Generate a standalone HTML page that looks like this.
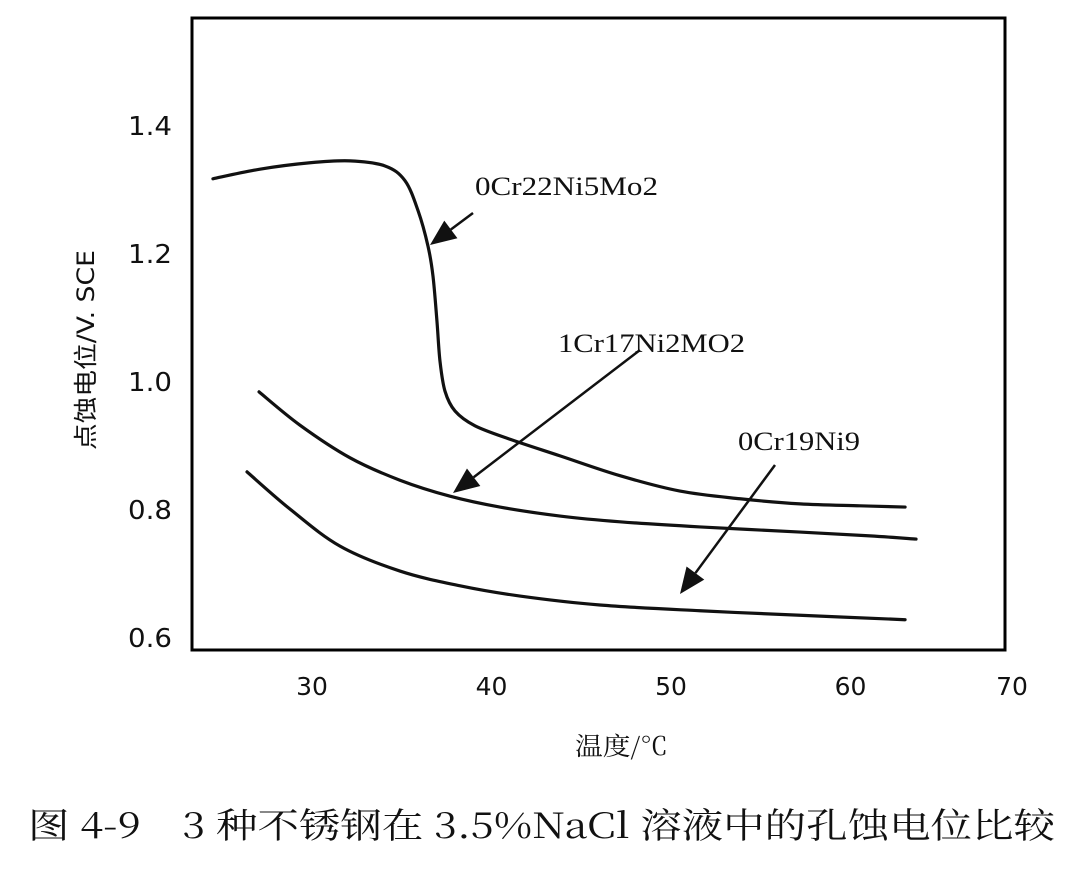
<!DOCTYPE html>
<html><head><meta charset="utf-8"><style>
html,body{margin:0;padding:0;background:#fff;}
svg{display:block;}
</style></head><body>
<svg id="chart" width="1080" height="871" viewBox="0 0 1080 871" xmlns="http://www.w3.org/2000/svg">
<g id="plot"></g>
<text x="28" y="838" textLength="1027" lengthAdjust="spacingAndGlyphs" font-family="'Noto Serif CJK SC',serif" font-size="35" fill="#111">图 4-9　3 种不锈钢在 3.5%NaCl 溶液中的孔蚀电位比较</text>
</svg>
<script>
const xTicks=[30,40,50,60,70];
const yTicks=[0.6,0.8,1.0,1.2,1.4];
const seriesNames=["0Cr22Ni5Mo2","1Cr17Ni2MO2","0Cr19Ni9"];
const s1x=[24.48,27.10,29.89,32.12,34.07,35.18,35.91,36.46,36.74,36.96,37.13,37.41,37.97,39.08,41.03,43.82,47.16,50.50,53.84,57.19,60.53,63.04];
const s1y=[1.316,1.331,1.341,1.344,1.336,1.313,1.266,1.211,1.164,1.094,1.031,0.984,0.953,0.930,0.909,0.883,0.852,0.828,0.816,0.808,0.805,0.803];
const s2x=[27.05,29.33,32.12,34.90,37.69,40.47,43.82,47.16,51.62,57.19,61.09,63.65];
const s2y=[0.983,0.931,0.880,0.845,0.820,0.803,0.789,0.780,0.772,0.764,0.758,0.753];
const s3x=[26.38,28.77,31.56,34.90,38.25,41.59,46.04,51.62,57.19,63.04];
const s3y=[0.858,0.800,0.742,0.703,0.680,0.664,0.650,0.641,0.634,0.627];

const NS="http://www.w3.org/2000/svg";
const X=v=>312+(v-30)*17.95;
const Y=v=>637-(v-0.6)*640;
const g=document.getElementById('plot');
function mk(t,a){const e=document.createElementNS(NS,t);for(const k in a)e.setAttribute(k,a[k]);g.appendChild(e);return e;}

const frame=mk('rect',{x:192,y:18,width:813,height:632,fill:'none',stroke:'#000','stroke-width':3});



xTicks.forEach(t=>{
  const px=Math.min(X(t),1012);
  const e=mk('text',{x:px,y:695,'text-anchor':'middle','font-family':"'DejaVu Sans','Liberation Sans',sans-serif",'font-size':25,fill:'#111'});
  e.textContent=t;
  
  
});
yTicks.forEach(t=>{
  const e=mk('text',{x:128,y:Y(t)+10,textLength:44,lengthAdjust:'spacingAndGlyphs','font-family':"'DejaVu Sans','Liberation Sans',sans-serif",'font-size':26,fill:'#111'});
  e.textContent=t.toFixed(1);
  
  
});
const yt=mk('text',{x:-100,y:0,transform:'translate(94,350) rotate(-90)',textLength:200,lengthAdjust:'spacingAndGlyphs','font-family':"'DejaVu Sans','Noto Sans CJK SC',sans-serif",'font-size':24,fill:'#111'});
yt.textContent='点蚀电位/V. SCE';


const xt=mk('text',{x:575,y:755,textLength:93,lengthAdjust:'spacingAndGlyphs','font-family':"'Noto Serif CJK SC',serif",'font-size':25,fill:'#111'});
xt.textContent='温度/℃';



function smooth(xs,ys){
  const p=xs.map((x,i)=>[X(x),Y(ys[i])]);
  let d='M'+p[0][0]+','+p[0][1];
  for(let i=0;i<p.length-1;i++){
    const p0=p[i-1]||p[i],p1=p[i],p2=p[i+1],p3=p[i+2]||p2;
    const c1=[p1[0]+(p2[0]-p0[0])/6,p1[1]+(p2[1]-p0[1])/6];
    const c2=[p2[0]-(p3[0]-p1[0])/6,p2[1]-(p3[1]-p1[1])/6];
    d+=` C${c1[0]},${c1[1]} ${c2[0]},${c2[1]} ${p2[0]},${p2[1]}`;
  }
  return d;
}
[[s1x,s1y],[s2x,s2y],[s3x,s3y]].forEach((s,i)=>{
  const e=mk('path',{d:smooth(s[0],s[1]),fill:'none',stroke:'#111','stroke-width':3.2,'stroke-linecap':'round'});
  
  
});

const arrows=[[473,213,430,245],[640,350,453,493],[775,465,680,594]];
const labels=[[475,195,183],[558,352,187],[738,450,122]];
arrows.forEach((a,i)=>{
  const [x1,y1,x2,y2]=a;
  const dx=x2-x1,dy=y2-y1,L=Math.hypot(dx,dy),ux=dx/L,uy=dy/L;
  const hl=26,hw=11;
  const bx=x2-ux*hl,by=y2-uy*hl;
  const ln=mk('line',{x1:x1,y1:y1,x2:bx,y2:by,stroke:'#111','stroke-width':2.5});
  
  
  const hd=mk('polygon',{points:`${x2},${y2} ${bx-uy*hw},${by+ux*hw} ${bx+uy*hw},${by-ux*hw}`,fill:'#111'});
  
  
  const t=mk('text',{x:labels[i][0],y:labels[i][1],textLength:labels[i][2],lengthAdjust:'spacingAndGlyphs','font-family':"'Liberation Serif',serif",'font-size':26,fill:'#111'});
  t.textContent=seriesNames[i];
  
  
});
</script>
</body></html>
